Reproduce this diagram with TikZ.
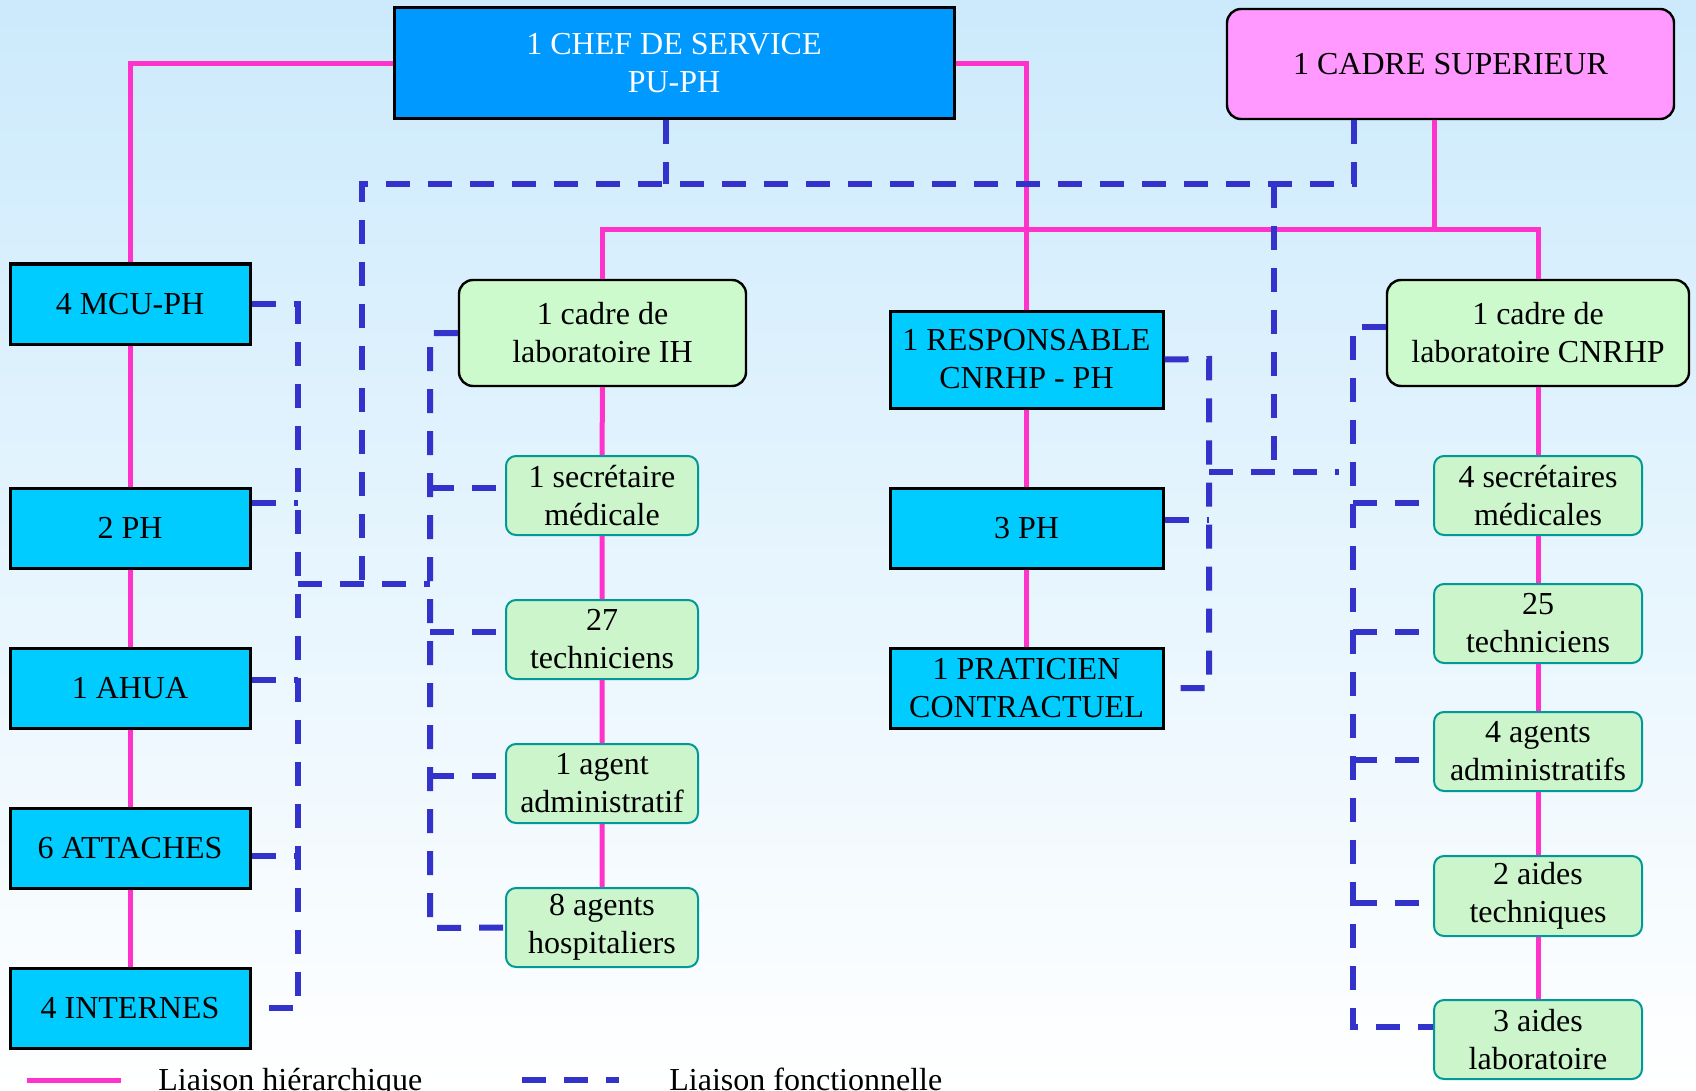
\documentclass[tikz,border=0pt]{standalone}
\usepackage{fontspec}
\setmainfont{Liberation Serif}
\definecolor{chefblue}{RGB}{0,153,255}
\definecolor{boxblue}{RGB}{0,204,255}
\definecolor{suppink}{RGB}{255,153,255}
\definecolor{labgreen}{RGB}{204,250,204}
\definecolor{staffgreen}{RGB}{204,245,204}
\definecolor{staffteal}{RGB}{0,153,153}
\definecolor{hierpink}{RGB}{255,51,204}
\definecolor{foncblue}{RGB}{51,51,204}
\definecolor{bgtop}{RGB}{204,234,252}
\begin{document}
\begin{tikzpicture}[x=0.5pt,y=-0.5pt,
  every node/.style={font=\fontsize{16}{19}\selectfont, align=center, inner sep=0pt},
  sz/.style 2 args={minimum width={#1*0.5pt}, minimum height={#2*0.5pt}},
  chefbox/.style={draw=black, line width=1.5pt, fill=chefblue, text=white},
  bluebox/.style={draw=black, line width=1.5pt, fill=boxblue},
  supbox/.style={draw=black, line width=1.2pt, fill=suppink, rounded corners=7pt},
  cadrebox/.style={draw=black, line width=1.2pt, fill=labgreen, rounded corners=7pt},
  staffbox/.style={draw=staffteal, line width=1pt, fill=staffgreen, rounded corners=5pt},
  hier/.style={draw=hierpink, line width=2.5pt},
  fonc/.style={draw=foncblue, line width=3pt, dash pattern=on 12pt off 9pt},
]
\useasboundingbox (0,0) rectangle (1696,1091);
\shade[top color=bgtop, bottom color=white] (0,0) rectangle (1696,1091);

% --- top level
\node[chefbox, sz={560}{111}] (chef) at (674,63.5) {1 CHEF DE SERVICE\\PU-PH};
\node[supbox, sz={447}{110}] (sup) at (1450.5,64) {1 CADRE SUPERIEUR};

% --- medical staff column
\node[bluebox, sz={240}{80}] (mcu)  at (130,304)  {4 MCU-PH};
\node[bluebox, sz={240}{80}] (ph2)  at (130,528)  {2 PH};
\node[bluebox, sz={240}{80}] (ahua) at (130,688)  {1 AHUA};
\node[bluebox, sz={240}{80}] (att)  at (130,848)  {6 ATTACHES};
\node[bluebox, sz={240}{80}] (int)  at (130,1008) {4 INTERNES};

% --- IH laboratory
\node[cadrebox, sz={287}{106}] (ih) at (602.5,333) {1 cadre de\\laboratoire IH};
\node[staffbox, sz={192}{79}] (ih1) at (602,495.5) {1 secrétaire\\médicale};
\node[staffbox, sz={192}{79}] (ih2) at (602,639.5) {27\\techniciens};
\node[staffbox, sz={192}{79}] (ih3) at (602,783.5) {1 agent\\administratif};
\node[staffbox, sz={192}{79}] (ih4) at (602,927.5) {8 agents\\hospitaliers};

% --- CNRHP medical staff
\node[bluebox, sz={273}{97}] (resp) at (1026.5,359.5) {1 RESPONSABLE\\CNRHP - PH};
\node[bluebox, sz={273}{80}] (ph3)  at (1026.5,528) {3 PH};
\node[bluebox, sz={273}{80}] (prat) at (1026.5,688) {1 PRATICIEN\\CONTRACTUEL};

% --- CNRHP laboratory
\node[cadrebox, sz={302}{106}] (cn) at (1538,333) {1 cadre de\\laboratoire CNRHP};
\node[staffbox, sz={208}{79}] (cn1) at (1538,495.5) {4 secrétaires\\médicales};
\node[staffbox, sz={208}{79}] (cn2) at (1538,623.5) {25\\techniciens};
\node[staffbox, sz={208}{79}] (cn3) at (1538,751.5) {4 agents\\administratifs};
\node[staffbox, sz={208}{80}] (cn4) at (1538,896) {2 aides\\techniques};
\node[staffbox, sz={208}{79}] (cn5) at (1538,1039.5) {3 aides\\laboratoire};

% --- hierarchical links
\coordinate (hb) at (1434,230);
\draw[hier] (chef.west) -| (mcu.north);
\draw[hier] (chef.east) -| (resp.north);
\draw[hier] (hb |- sup.south) -- (hb);
\draw[hier] (ih.north) |- (hb) -| (cn.north);
\draw[hier] (mcu.south) -- (ph2.north) (ph2.south) -- (ahua.north)
            (ahua.south) -- (att.north) (att.south) -- (int.north);
\draw[hier] (ih.south) -- (ih1.north) (ih1.south) -- (ih2.north)
            (ih2.south) -- (ih3.north) (ih3.south) -- (ih4.north);
\draw[hier] (resp.south) -- (ph3.north) (ph3.south) -- (prat.north);
\draw[hier] (cn.south) -- (cn1.north) (cn1.south) -- (cn2.north)
            (cn2.south) -- (cn3.north) (cn3.south) -- (cn4.north)
            (cn4.south) -- (cn5.north);

% --- functional links: junction points
\coordinate (j1) at (666,184);
\coordinate (tl) at (362,184);
\coordinate (tr) at (1354,184);
\coordinate (lj) at (362,584);
\coordinate (la) at (298,584);
\coordinate (lb) at (430,584);
\coordinate (l1) at (298,304);
\coordinate (l2) at (298,503);
\coordinate (l3) at (298,680);
\coordinate (l4) at (298,856);
\coordinate (l5) at (298,1008);
\coordinate (i0) at (430,333);
\coordinate (i1) at (430,488);
\coordinate (i2) at (430,632);
\coordinate (i3) at (430,776);
\coordinate (i4) at (430,928);
\coordinate (r0) at (1209,359);
\coordinate (r1) at (1209,520);
\coordinate (r2) at (1209,688);
\coordinate (c0) at (1353,327);
\coordinate (c1) at (1353,503);
\coordinate (c2) at (1353,632);
\coordinate (c3) at (1353,760);
\coordinate (c4) at (1353,903);
\coordinate (c5) at (1353,1027);
\coordinate (x1) at (1274,184);
\coordinate (x2) at (1274,472);
\coordinate (x3) at (1209,472);
\coordinate (x4) at (1339,472);

% --- functional links
\draw[fonc] (chef.south -| j1) -- (j1);
\draw[fonc] (sup.south -| tr) -- (tr) -- (tl) -- (lj);
\draw[fonc] (la) -- (lb);
\draw[fonc] (mcu.east) -- (l1) -- (l5) -- (int.east);
\draw[fonc] (l2 -| ph2.east) -- (l2);
\draw[fonc] (l3 -| ahua.east) -- (l3);
\draw[fonc] (l4 -| att.east) -- (l4);
\draw[fonc] (ih.west) -- (i0) -- (i4) -- (ih4.west);
\draw[fonc] (i1) -- (i1 -| ih1.west);
\draw[fonc] (i2) -- (i2 -| ih2.west);
\draw[fonc] (i3) -- (i3 -| ih3.west);
\draw[fonc] (resp.east) -- (r0) -- (r2) -- (prat.east);
\draw[fonc] (r1 -| ph3.east) -- (r1);
\draw[fonc] (c0 -| cn.west) -- (c0) -- (c5) -- (c5 -| cn5.west);
\draw[fonc] (c1) -- (c1 -| cn1.west);
\draw[fonc] (c2) -- (c2 -| cn2.west);
\draw[fonc] (c3) -- (c3 -| cn3.west);
\draw[fonc] (c4) -- (c4 -| cn4.west);
\draw[fonc] (x1) -- (x2);
\draw[fonc] (x3) -- (x4);

% --- legend
\coordinate (g1) at (27,1080);
\coordinate (g2) at (121,1080);
\coordinate (g3) at (522,1080);
\coordinate (g4) at (619,1080);
\draw[hier] (g1) -- (g2);
\node[anchor=base west] (lh) at (158,1090) {Liaison hiérarchique};
\draw[fonc] (g3) -- (g4);
\node[anchor=base west] (lf) at (669,1090) {Liaison fonctionnelle};
\end{tikzpicture}
\end{document}
